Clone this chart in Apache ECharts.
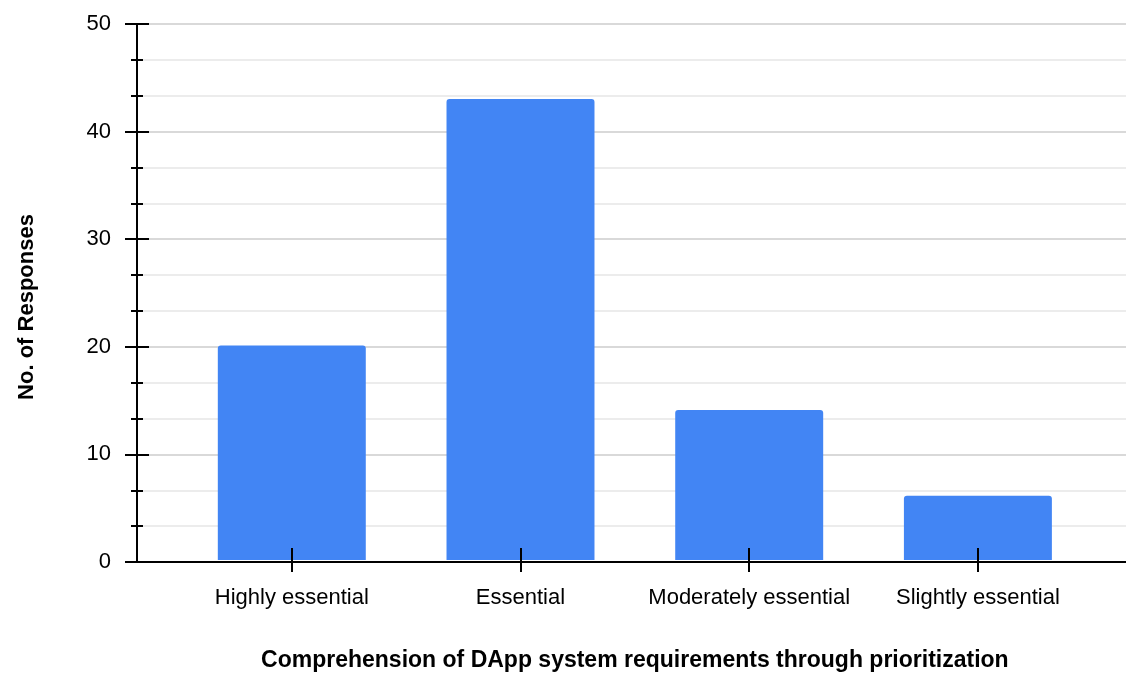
<!DOCTYPE html>
<html>
<head>
<meta charset="utf-8">
<script src="https://cdn.jsdelivr.net/npm/echarts@6/dist/echarts.min.js"></script>
<style>
  html, body { margin: 0; padding: 0; background: #fff; }
  #chart { width: 1126px; height: 677px; }
</style>
</head>
<body>
<div id="chart"></div>
<script>
// Survey responses by priority level
const categories = ['Highly essential', 'Essential', 'Moderately essential', 'Slightly essential'];
const responses = [20, 43, 14, 6];
const yMin = 0;
const yMax = 50;
const yStep = 10;
const xTitle = 'Comprehension of DApp system requirements through prioritization';
const yTitle = 'No. of Responses';

const FONT = "'Liberation Sans', Arial, sans-serif";
const BLACK = '#000000';

const chart = echarts.init(document.getElementById('chart'), null, { renderer: 'canvas' });

const plotTop = 24;
const plotBottom = 115;

chart.setOption({
  animation: false,
  backgroundColor: '#ffffff',
  grid: [
    // frame grid: value axis, gridlines, baseline
    { left: 137, right: 0, top: plotTop, bottom: plotBottom },
    // category grid: bars and category labels
    { left: 177.45, right: 33.75, top: plotTop, bottom: plotBottom }
  ],
  xAxis: [
    {
      gridIndex: 0, type: 'value', min: 0, max: 1,
      axisLine: { show: true, lineStyle: { color: BLACK, width: 2 } },
      axisTick: { show: false }, axisLabel: { show: false }, splitLine: { show: false }
    },
    {
      gridIndex: 1, type: 'category', data: categories, position: 'bottom',
      axisLine: { show: false },
      axisTick: { show: true, interval: 0, alignWithLabel: true, length: 12, lineStyle: { color: BLACK, width: 2 } },
      axisLabel: { interval: 0, color: BLACK, fontFamily: FONT, fontSize: 22, margin: 27 },
      splitLine: { show: false },
      name: xTitle, nameLocation: 'middle', nameGap: 89,
      nameTextStyle: { color: BLACK, fontFamily: FONT, fontSize: 23, fontWeight: 'bold' }
    },
    {
      gridIndex: 1, type: 'category', data: categories, position: 'bottom', z: 5,
      axisLine: { show: false },
      axisTick: { show: true, interval: 0, inside: true, alignWithLabel: true, length: 12, lineStyle: { color: BLACK, width: 2 } },
      axisLabel: { show: false, interval: 0 }, splitLine: { show: false }
    }
  ],
  yAxis: [
    {
      gridIndex: 0, type: 'value', min: yMin, max: yMax, interval: yStep, position: 'left',
      axisLine: { show: true, lineStyle: { color: BLACK, width: 2 } },
      axisTick: { show: true, length: 12, lineStyle: { color: BLACK, width: 2 } },
      minorTick: { show: true, splitNumber: 3, length: 6, lineStyle: { color: BLACK, width: 2 } },
      axisLabel: { color: BLACK, fontFamily: FONT, fontSize: 22, margin: 26 },
      splitLine: { show: true, lineStyle: { color: '#cccccc', width: 1.5 } },
      minorSplitLine: { show: true, lineStyle: { color: '#e6e6e6', width: 1.5 } },
      name: yTitle, nameLocation: 'middle', nameGap: 99, nameRotate: 90,
      nameTextStyle: { color: BLACK, fontFamily: FONT, fontSize: 22, fontWeight: 'bold', padding: [0, 28, 0, 0] }
    },
    {
      gridIndex: 0, type: 'value', min: yMin, max: yMax, interval: yStep, position: 'left',
      axisLine: { show: false },
      axisTick: { show: true, inside: true, length: 12, lineStyle: { color: BLACK, width: 2 } },
      minorTick: { show: true, splitNumber: 3, length: 6, lineStyle: { color: BLACK, width: 2 } },
      axisLabel: { show: false }, splitLine: { show: false }, minorSplitLine: { show: false }
    },
    {
      gridIndex: 1, type: 'value', min: yMin, max: yMax, interval: yStep, show: false
    }
  ],
  series: [
    {
      type: 'bar',
      xAxisIndex: 1,
      yAxisIndex: 2,
      data: responses,
      barWidth: '64.7%',
      itemStyle: { color: '#4285F4', borderRadius: [3, 3, 0, 0] }
    }
  ]
});
</script>
</body>
</html>
